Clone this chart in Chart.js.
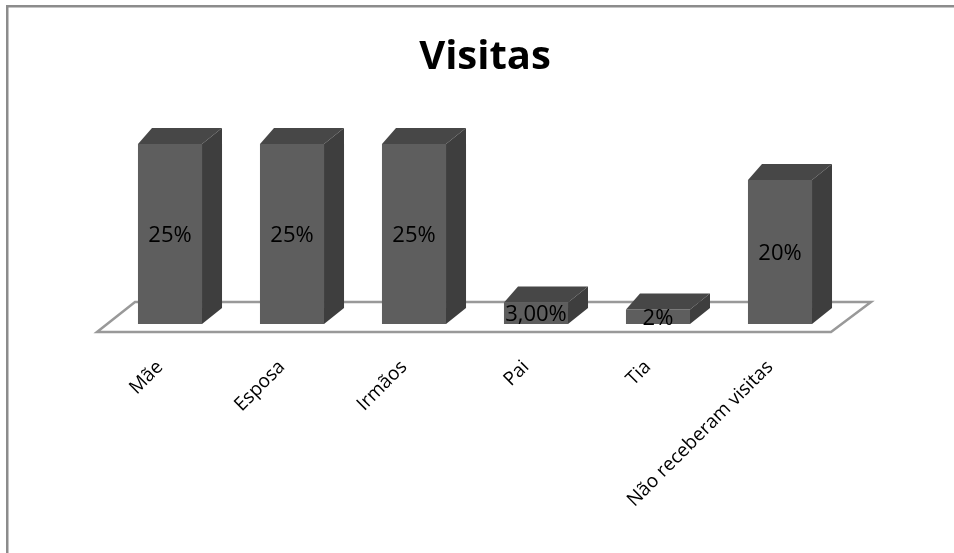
<!DOCTYPE html>
<html>
<head>
<meta charset="utf-8">
<script src="https://cdn.jsdelivr.net/npm/chart.js@4"></script>
<style>
html,body{margin:0;padding:0;background:#fff}
#wrap{width:954px;height:553px}
</style>
</head>
<body>
<div id="wrap"><canvas id="visitas"></canvas></div>
<script>
const categorias = ['Mãe','Esposa','Irmãos','Pai','Tia','Não receberam visitas']
const valores = [25,25,25,3,2,20]
const rotulos = ['25%','25%','25%','3,00%','2%','20%']

// profundidade do efeito 3D
const dxL = 14, dxR = 20, dy = -16

const moldura = {
    id:'moldura',
    beforeDraw(chart){
        const c = chart.ctx
        c.save()
        c.fillStyle = '#fff'
        c.fillRect(0,0,chart.width,chart.height)
        c.strokeStyle = '#8c8c8c'
        c.lineWidth = 2.5
        c.beginPath()
        c.moveTo(7.25, chart.height)
        c.lineTo(7.25, 6.25)
        c.lineTo(chart.width, 6.25)
        c.stroke()
        c.restore()
    },
    afterLayout(chart){
        // titulo um pouco deslocado para a direita, como no original
        if (chart.titleBlock) chart.titleBlock.left += 20
    }
}

const piso = {
    id:'piso',
    beforeDatasetsDraw(chart){
        const a = chart.chartArea, c = chart.ctx
        c.save()
        c.strokeStyle = '#999'
        c.lineWidth = 2.5
        c.fillStyle = '#fff'
        c.beginPath()
        c.moveTo(a.left-12, a.bottom+8)
        c.lineTo(a.right-10, a.bottom+8)
        c.lineTo(a.right+30, a.bottom-22)
        c.lineTo(a.left+26, a.bottom-22)
        c.closePath()
        c.fill()
        c.stroke()
        c.restore()
    }
}

const barras3d = {
    id:'barras3d',
    afterDatasetsDraw(chart){
        const c = chart.ctx
        chart.getDatasetMeta(0).data.forEach((b,i) => {
            const xl = b.x - b.width/2, xr = b.x + b.width/2, yt = b.y, yb = b.base
            c.save()
            // topo
            c.fillStyle = '#474747'
            c.beginPath()
            c.moveTo(xl,yt); c.lineTo(xr,yt); c.lineTo(xr+dxR,yt+dy); c.lineTo(xl+dxL,yt+dy)
            c.closePath(); c.fill()
            // lateral
            c.fillStyle = '#3e3e3e'
            c.beginPath()
            c.moveTo(xr,yt); c.lineTo(xr+dxR,yt+dy); c.lineTo(xr+dxR,yb+dy); c.lineTo(xr,yb)
            c.closePath(); c.fill()
            // rotulo
            c.fillStyle = '#000'
            c.font = '22px "Open Sans"'
            c.textAlign = 'center'
            c.textBaseline = 'middle'
            c.fillText(rotulos[i], b.x, (yt+yb)/2 + 2)
            c.restore()
        })
    }
}

new Chart(document.getElementById('visitas'), {
    type: 'bar',
    data: {
        labels: categorias,
        datasets: [{
            label: 'Visitas',
            data: valores,
            backgroundColor: '#5e5e5e',
            borderWidth: 0,
            categoryPercentage: 1,
            barPercentage: 0.525
        }]
    },
    options: {
        responsive: true,
        maintainAspectRatio: false,
        animation: false,
        layout: {
            padding: {top: 10, left: 109, right: 113, bottom: 0}
        },
        scales: {
            x: {
                grid: {display: false, drawTicks: false},
                border: {display: false},
                ticks: {
                    color: '#000',
                    font: {family: 'Open Sans', size: 19},
                    minRotation: 45,
                    maxRotation: 45,
                    padding: 32,
                    labelOffset: -10
                },
                afterFit: (s) => { s.height = 229 }
            },
            y: {
                display: false,
                min: 0,
                max: 25
            }
        },
        plugins: {
            title: {
                display: true,
                text: 'Visitas',
                color: '#000',
                font: {family: 'Open Sans', size: 40, weight: 'bold'},
                padding: {top: 24, bottom: 62}
            },
            legend: {display: false},
            tooltip: {enabled: false}
        }
    },
    plugins: [moldura, piso, barras3d]
})
</script>
</body>
</html>
